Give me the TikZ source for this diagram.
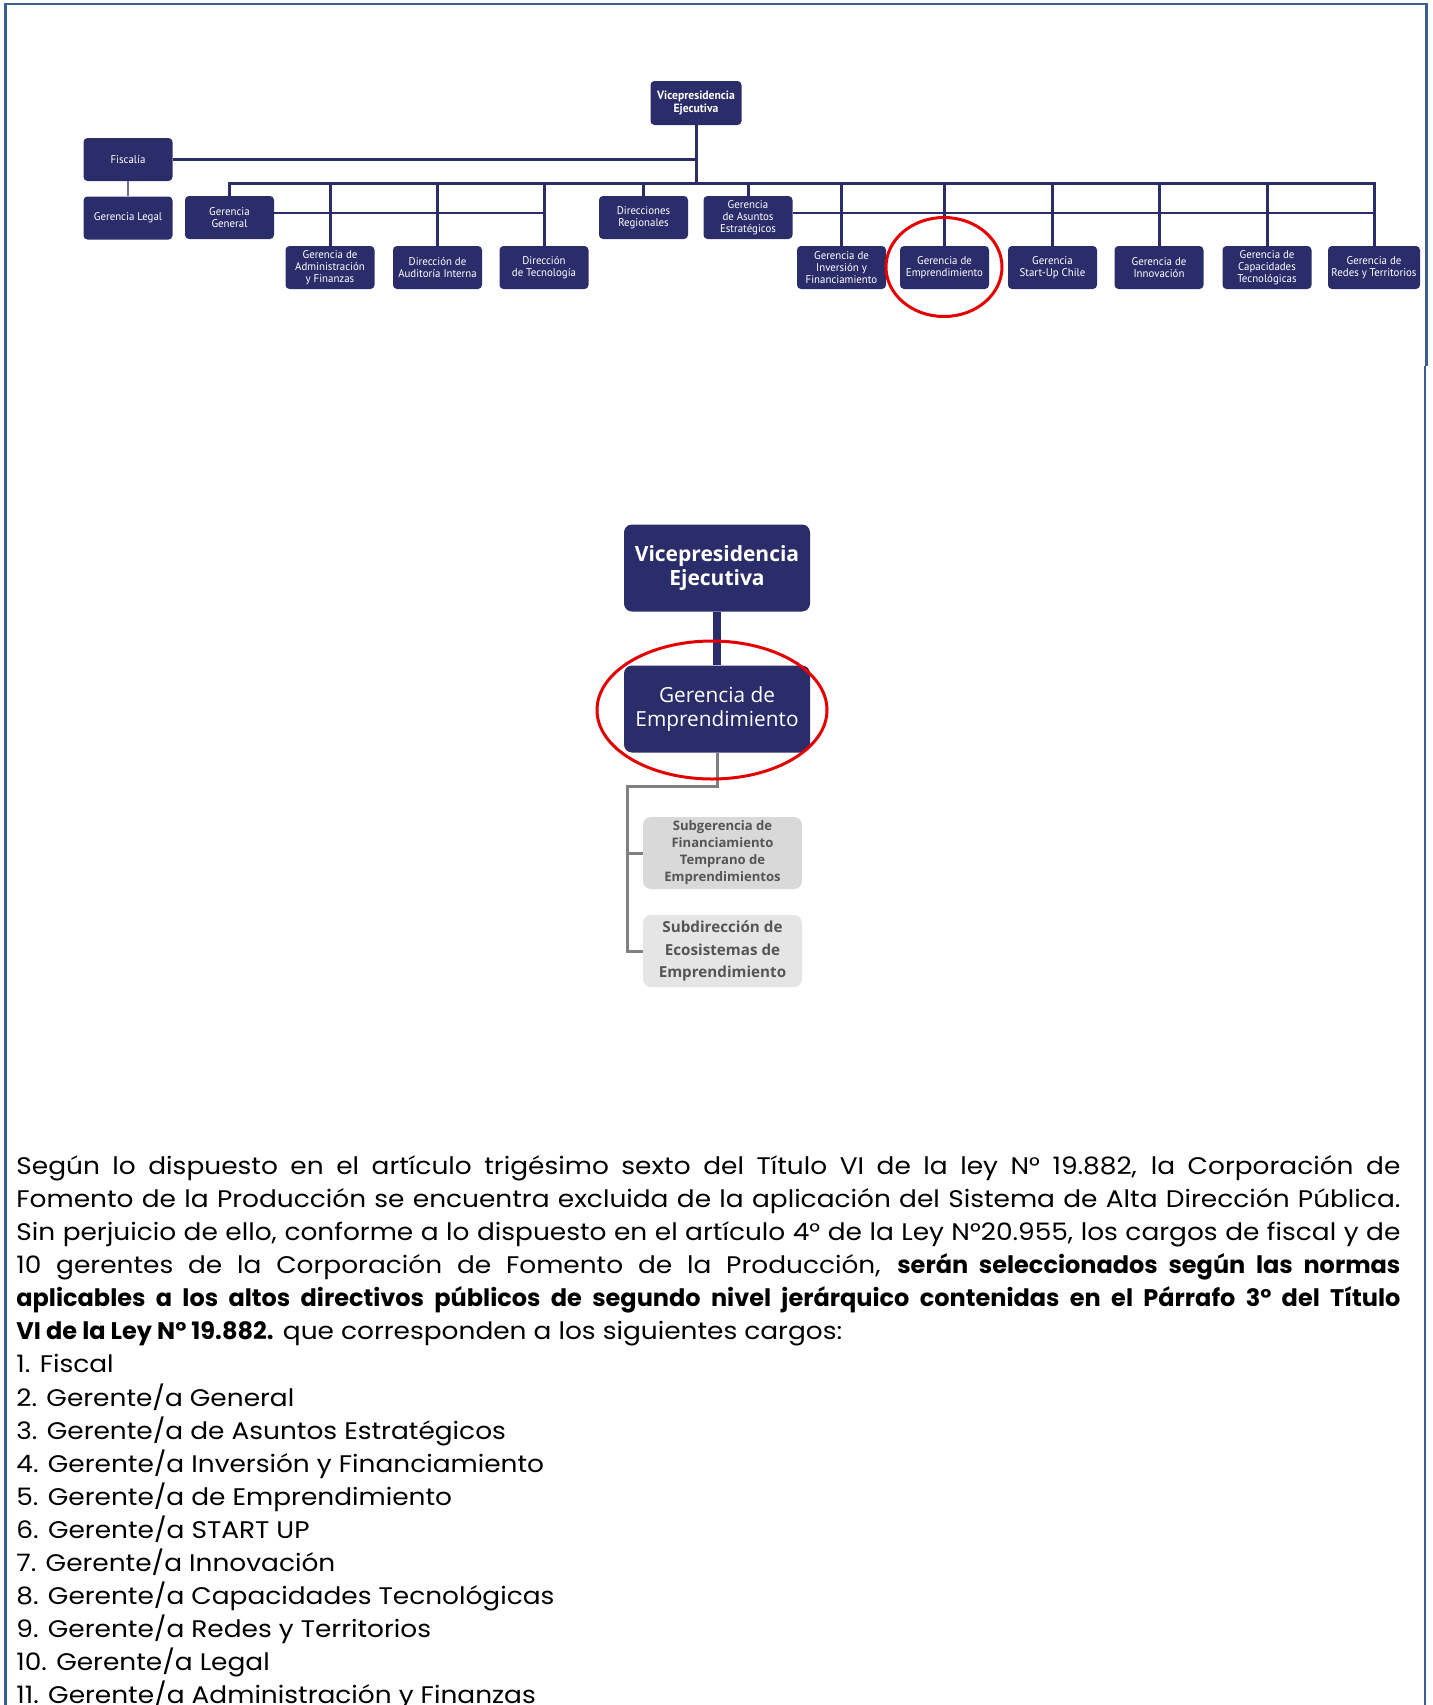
\documentclass[tikz,border=0pt]{standalone}
\usepackage{fontspec}
\setmainfont{Poppins}[FakeStretch=1.1]
\newfontfamily\negrita{Poppins}
\newfontfamily\orgfont[FakeStretch=0.97]{PT Sans}
\newfontfamily\cajafont{Open Sans}
\definecolor{azulcorfo}{RGB}{43,45,107}
\definecolor{azulborde}{RGB}{59,95,145}
\definecolor{rojomarca}{RGB}{228,0,0}
\definecolor{grislinea}{RGB}{128,128,128}
\definecolor{grissub}{RGB}{217,217,217}
\definecolor{grissubb}{RGB}{229,229,229}
\definecolor{textosub}{RGB}{85,85,85}

\begin{document}
\begin{tikzpicture}[
    x=0.5pt, y=-0.5pt,
    caja/.style={rectangle, rounded corners=2pt, fill=azulcorfo, text=white,
        minimum width=44.5pt, minimum height=21.5pt, inner sep=0pt,
        align=center, font=\orgfont\fontsize{5.6}{6}\selectfont},
    cajagrande/.style={rectangle, rounded corners=4pt, fill=azulcorfo, text=white,
        minimum width=93pt, minimum height=43.5pt, inner sep=0pt, align=center},
    subcaja/.style={rectangle, rounded corners=4pt, text=textosub,
        minimum width=79.5pt, minimum height=36pt, inner sep=0pt, align=center},
    linea/.style={draw=azulcorfo, line width=1.5pt},
    lineafina/.style={draw=azulcorfo, line width=1pt},
    marca/.style={draw=rojomarca, line width=1.5pt},
    texto/.style={text width=692pt, align=justify, inner sep=0pt,
        font=\fontsize{12}{16.55}\selectfont}
]
\useasboundingbox (0,0) rectangle (1432,1705);

% Marco
\draw[azulborde, line width=1.4pt] (5.5,1710) -- (5.5,4) -- (1426.5,4) -- (1426.5,366);
\draw[azulborde, line width=1.4pt] (1425,366) -- (1425,1710);

% Organigrama general
\node[caja, font=\orgfont\bfseries\fontsize{6}{6.2}\selectfont, minimum width=45.5pt, minimum height=22pt] (vpA) at (696,103) {Vicepresidencia\\Ejecutiva};
\node[caja] (fisc) at (128,159.5) {Fiscalía};
\node[caja] (legal) at (128,218) {Gerencia Legal};
\node[caja] (gg) at (229.5,217.5) {Gerencia\\General};
\node[caja] (adm) at (330,267.5) {Gerencia de\\Administración\\y Finanzas};
\node[caja] (aud) at (437.5,267.5) {Dirección de\\Auditoría Interna};
\node[caja] (tec) at (544,267.5) {Dirección\\de Tecnología};
\node[caja] (dreg) at (643.5,217.5) {Direcciones\\Regionales};
\node[caja] (asu) at (748,217.5) {Gerencia\\de Asuntos\\Estratégicos};
\node[caja] (inv) at (841.5,267.5) {Gerencia de\\Inversión y\\Financiamiento};
\node[caja] (emp) at (944.5,267.5) {Gerencia de\\Emprendimiento};
\node[caja] (sup) at (1052.5,267.5) {Gerencia\\Start-Up Chile};
\node[caja] (inn) at (1159,267.5) {Gerencia de\\Innovación};
\node[caja] (cap) at (1267,267.5) {Gerencia de\\Capacidades\\Tecnológicas};
\node[caja, minimum width=46pt] (red) at (1374,267.5) {Gerencia de\\Redes y Territorios};

\coordinate (bus) at (696,183);
\coordinate (lin2) at (696,213);
\draw[linea] (vpA.south) -- (vpA.south |- bus);
\draw[linea] (fisc.east) -- (fisc.east -| vpA.south);
\draw[draw=azulcorfo!70, line width=0.8pt] (fisc.south) -- (legal.north);
\draw[linea] (gg.north) -- (gg.north |- bus) -- (red.north |- bus) -- (red.north);
\foreach \n in {adm,aud,tec,dreg,asu,inv,emp,sup,inn,cap}
    \draw[linea] (\n.north) -- (\n.north |- bus);
\draw[lineafina] (gg.east |- lin2) -- (tec.north |- lin2);
\draw[lineafina] (asu.east |- lin2) -- (red.north |- lin2);

\draw[marca] (944,267) ellipse [x radius=29pt, y radius=24.75pt];

% Detalle de la gerencia
\node[cajagrande, font=\cajafont\bfseries\fontsize{10.5}{12.2}\selectfont] (vpB) at (717,568) {Vicepresidencia\\Ejecutiva};
\node[cajagrande, font=\cajafont\fontsize{10.4}{11.6}\selectfont] (empB) at (717,709) {Gerencia de\\Emprendimiento};
\node[subcaja, fill=grissub, font=\cajafont\bfseries\fontsize{6.55}{8.5}\selectfont] (subF) at (722.5,853) {Subgerencia de\\Financiamiento\\Temprano de\\Emprendimientos};
\node[subcaja, fill=grissubb, font=\cajafont\bfseries\fontsize{7.6}{11.2}\selectfont] (subE) at (722.5,951) {Subdirección de\\Ecosistemas de\\Emprendimiento};

\draw[azulcorfo, line width=4pt] (vpB.south) -- (empB.north);
\coordinate (codo) at (627,786);
\draw[grislinea, line width=1.5pt] (empB.south) -- (empB.south |- codo) -- (codo) -- (codo |- subE.west) -- (subE.west);
\draw[grislinea, line width=1.5pt] (codo |- subF.west) -- (subF.west);

\draw[marca] (712,710) ellipse [x radius=57.5pt, y radius=34.5pt];

% Texto
\node[texto, anchor=north west] (parrafo) at (16,1155) {%
Según lo dispuesto en el artículo trigésimo sexto del Título VI de la ley N° 19.882, la Corporación de\linebreak
Fomento de la Producción se encuentra excluida de la aplicación del Sistema de Alta Dirección Pública.\linebreak
Sin perjuicio de ello, conforme a lo dispuesto en el artículo 4° de la Ley N°20.955, los cargos de fiscal y de\linebreak
10 gerentes de la Corporación de Fomento de la Producción, {\negrita\bfseries serán seleccionados según las normas\linebreak
aplicables a los altos directivos públicos de segundo nivel jerárquico contenidas en el Párrafo 3° del Título\linebreak
VI de la Ley N° 19.882.} que corresponden a los siguientes cargos:\par
1. Fiscal\par
2. Gerente/a General\par
3. Gerente/a de Asuntos Estratégicos\par
4. Gerente/a Inversión y Financiamiento\par
5. Gerente/a de Emprendimiento\par
6. Gerente/a START UP\par
7. Gerente/a Innovación\par
8. Gerente/a Capacidades Tecnológicas\par
9. Gerente/a Redes y Territorios\par
10. Gerente/a Legal\par
11. Gerente/a Administración y Finanzas\par};
\end{tikzpicture}
\end{document}
